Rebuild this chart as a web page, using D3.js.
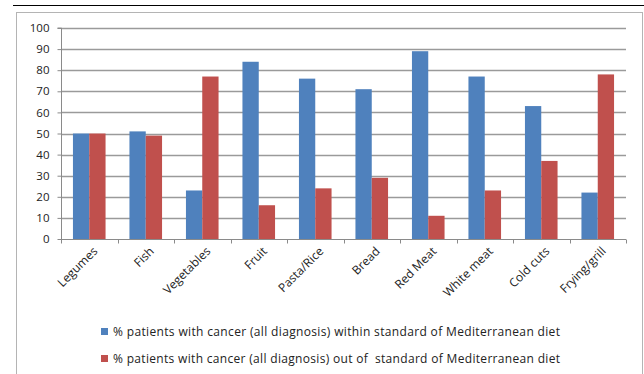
<!DOCTYPE html>
<html>
<head>
<meta charset="utf-8">
<script src="https://cdn.jsdelivr.net/npm/d3@7"></script>
<style>
  html, body { margin: 0; padding: 0; background: #fff; }
  svg { display: block; }
  text { font-family: "Open Sans", "Liberation Sans", sans-serif; fill: #222; white-space: pre; }
</style>
</head>
<body>
<svg id="chart" width="644" height="374"></svg>
<script>
// Food groups and the share of patients within / outside the Mediterranean standard
const categories = ["Legumes", "Fish", "Vegetables", "Fruit", "Pasta/Rice", "Bread",
                    "Red Meat", "White meat", "Cold cuts", "Frying/grill"];
const withinStandard = [50, 51, 23, 84, 76, 71, 89, 77, 63, 22];
const outOfStandard  = [50, 49, 77, 16, 24, 29, 11, 23, 37, 78];
const seriesNames = [
  "% patients with cancer (all diagnosis) within standard of Mediterranean diet",
  "% patients with cancer (all diagnosis) out of  standard of Mediterranean diet"
];
const yTicks = [0, 10, 20, 30, 40, 50, 60, 70, 80, 90, 100];
const colors = ["#4F81BD", "#C0504D"];

const svg = d3.select("#chart");

// rule under the running text above the figure
svg.append("line")
  .attr("x1", 13).attr("x2", 644).attr("y1", 5.5).attr("y2", 5.5)
  .attr("stroke", "#000").attr("stroke-width", 1.2);

// chart area frame
svg.append("rect")
  .attr("x", 16.5).attr("y", 12.5).attr("width", 626).attr("height", 400)
  .attr("fill", "#fff").attr("stroke", "#b4b4b4").attr("stroke-width", 1);

const plot = { left: 61, right: 626, top: 28, bottom: 239 };

const x = d3.scaleBand().domain(categories).range([plot.left, plot.right]).paddingInner(0).paddingOuter(0);
const y = d3.scaleLinear().domain([0, 100]).range([plot.bottom, plot.top]);

// gridlines
svg.append("g")
  .selectAll("line")
  .data(yTicks.filter(t => t > 0))
  .join("line")
  .attr("x1", plot.left).attr("x2", plot.right)
  .attr("y1", d => Math.round(y(d)) + 0.5).attr("y2", d => Math.round(y(d)) + 0.5)
  .attr("stroke", "#9a9a9a").attr("stroke-width", 1.3);

// clustered bars
const series = [withinStandard, outOfStandard];
const groupWidth = 32.6;
const barW = groupWidth / 2;
svg.append("g")
  .selectAll("g")
  .data(series)
  .join("g")
  .attr("fill", (d, i) => colors[i])
  .each(function(vals, si) {
    d3.select(this).selectAll("rect")
      .data(vals)
      .join("rect")
      .attr("x", (v, i) => x(categories[i]) + x.bandwidth() / 2 - groupWidth / 2 + si * barW)
      .attr("width", barW)
      .attr("y", v => y(v))
      .attr("height", v => y(0) - y(v));
  });

// y axis
const yAxis = d3.axisLeft(y).tickValues(yTicks).tickSize(4).tickPadding(8);
const yg = svg.append("g").attr("transform", `translate(${plot.left + 0.5},0)`).call(yAxis);
yg.select(".domain").attr("stroke", "#8a8a8a").attr("d", `M-4,${plot.top}H0V${plot.bottom}`);
yg.selectAll(".tick line").attr("stroke", "#8a8a8a");
yg.selectAll(".tick text").attr("font-size", 11.5).attr("fill", "#222")
  .style("font-family", "'Open Sans', sans-serif");

// x axis with category boundary ticks
const xAxis = d3.axisBottom(x).tickSize(0).tickFormat("");
const xg = svg.append("g").attr("transform", `translate(0,${plot.bottom + 0.5})`).call(xAxis);
xg.select(".domain").attr("stroke", "#8a8a8a").attr("d", `M${plot.left},0H${plot.right}`);
xg.selectAll(".tick").remove();
xg.selectAll(".bound")
  .data(d3.range(categories.length + 1))
  .join("line")
  .attr("x1", i => Math.round(plot.left + i * x.bandwidth()) + 0.5)
  .attr("x2", i => Math.round(plot.left + i * x.bandwidth()) + 0.5)
  .attr("y1", 0).attr("y2", 4)
  .attr("stroke", "#8a8a8a");

svg.append("g")
  .selectAll("text")
  .data(categories)
  .join("text")
  .attr("transform", d => `translate(${x(d) + x.bandwidth() / 2 + 6},${plot.bottom + 10}) rotate(-45)`)
  .attr("text-anchor", "end")
  .attr("dy", "0.35em")
  .attr("font-size", 12)
  .text(d => d);

// legend
const legend = svg.append("g");
seriesNames.forEach((name, i) => {
  const ly = 332 + i * 27;
  legend.append("rect")
    .attr("x", 101).attr("y", ly - 4).attr("width", 7).attr("height", 7)
    .attr("fill", colors[i]);
  legend.append("text")
    .attr("x", 113).attr("y", ly).attr("dy", "0.35em")
    .attr("font-size", 12)
    .attr("textLength", 447)
    .attr("lengthAdjust", "spacing")
    .text(name);
});
</script>
</body>
</html>
